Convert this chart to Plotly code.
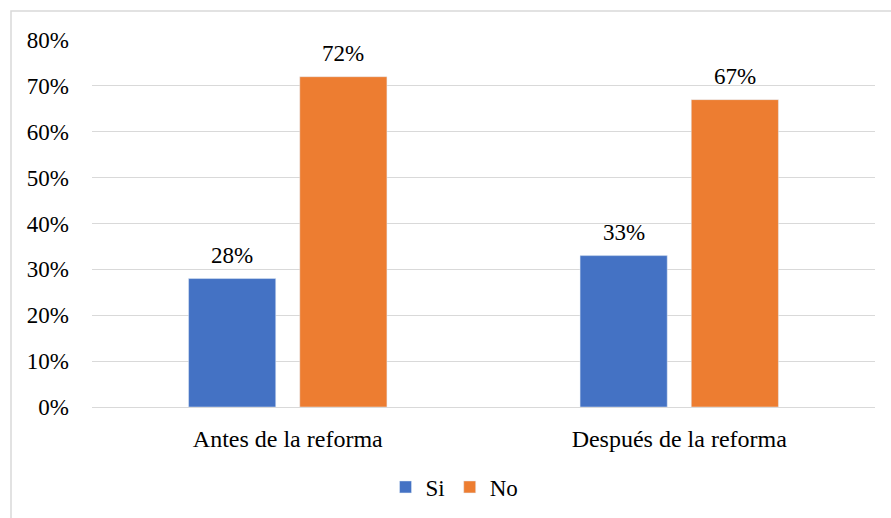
import plotly.graph_objects as go

categories = ["Antes de la reforma", "Después de la reforma"]
series_names = ["Si", "No"]
si_values = [0.28, 0.33]
no_values = [0.72, 0.67]
y_ticks = [0, 0.1, 0.2, 0.3, 0.4, 0.5, 0.6, 0.7, 0.8]

FAMILY = "'Liberation Serif', 'Times New Roman', Times, serif"
COLORS = ["#4472C4", "#ED7D31"]


def font(size=23):
    return dict(family=FAMILY, size=size, color="#000")


fig = go.Figure()
for name, vals, color in zip(series_names, [si_values, no_values], COLORS):
    fig.add_trace(go.Bar(name=name, x=categories, y=vals, marker_color=color))

# value labels above the bars (offset left/right for the grouped bars)
for shift, vals in zip([-55.5, 55.5], [si_values, no_values]):
    for cat, v in zip(categories, vals):
        fig.add_annotation(
            x=cat, y=v, text=f"{v:.0%}", showarrow=False,
            xshift=shift, yshift=9, yanchor="bottom",
            font=font(23),
        )

# chart border (as in the Excel export)
L, R, T, B = 92, 16, 40, 111
W, H = 891, 518
pw, ph = W - L - R, H - T - B
fig.add_shape(
    type="rect", xref="paper", yref="paper",
    x0=(11 - L) / pw, x1=(893 - L) / pw,
    y0=-(H + 5 - T - ph) / ph, y1=1 + (T - 11) / ph,
    line=dict(color="#D9D9D9", width=1.5),
)

fig.update_layout(
    width=W, height=H,
    margin=dict(l=L, r=R, t=T, b=B, autoexpand=False),
    paper_bgcolor="white", plot_bgcolor="white",
    font=font(),
    barmode="group", bargap=0.432, bargroupgap=0.216,
    showlegend=True,
    legend=dict(
        orientation="h", x=0.463, xanchor="center",
        y=-(487 - 407) / ph, yanchor="middle",
        font=font(23), itemwidth=30, traceorder="normal",
    ),
    xaxis=dict(
        showline=True, linecolor="#D9D9D9", linewidth=1,
        ticks="", tickfont=font(24), ticklabelstandoff=10,
        automargin=False,
    ),
    yaxis=dict(
        range=[0, 0.8], tickvals=y_ticks, tickformat=".0%",
        showgrid=True, gridcolor="#D9D9D9", gridwidth=1,
        zeroline=False, ticks="", ticklabelstandoff=22,
        tickfont=font(23), automargin=False,
    ),
)

fig.write_html(
    "out.html",
    config={"displayModeBar": False},
    post_script="document.body.style.margin='0';",
)
